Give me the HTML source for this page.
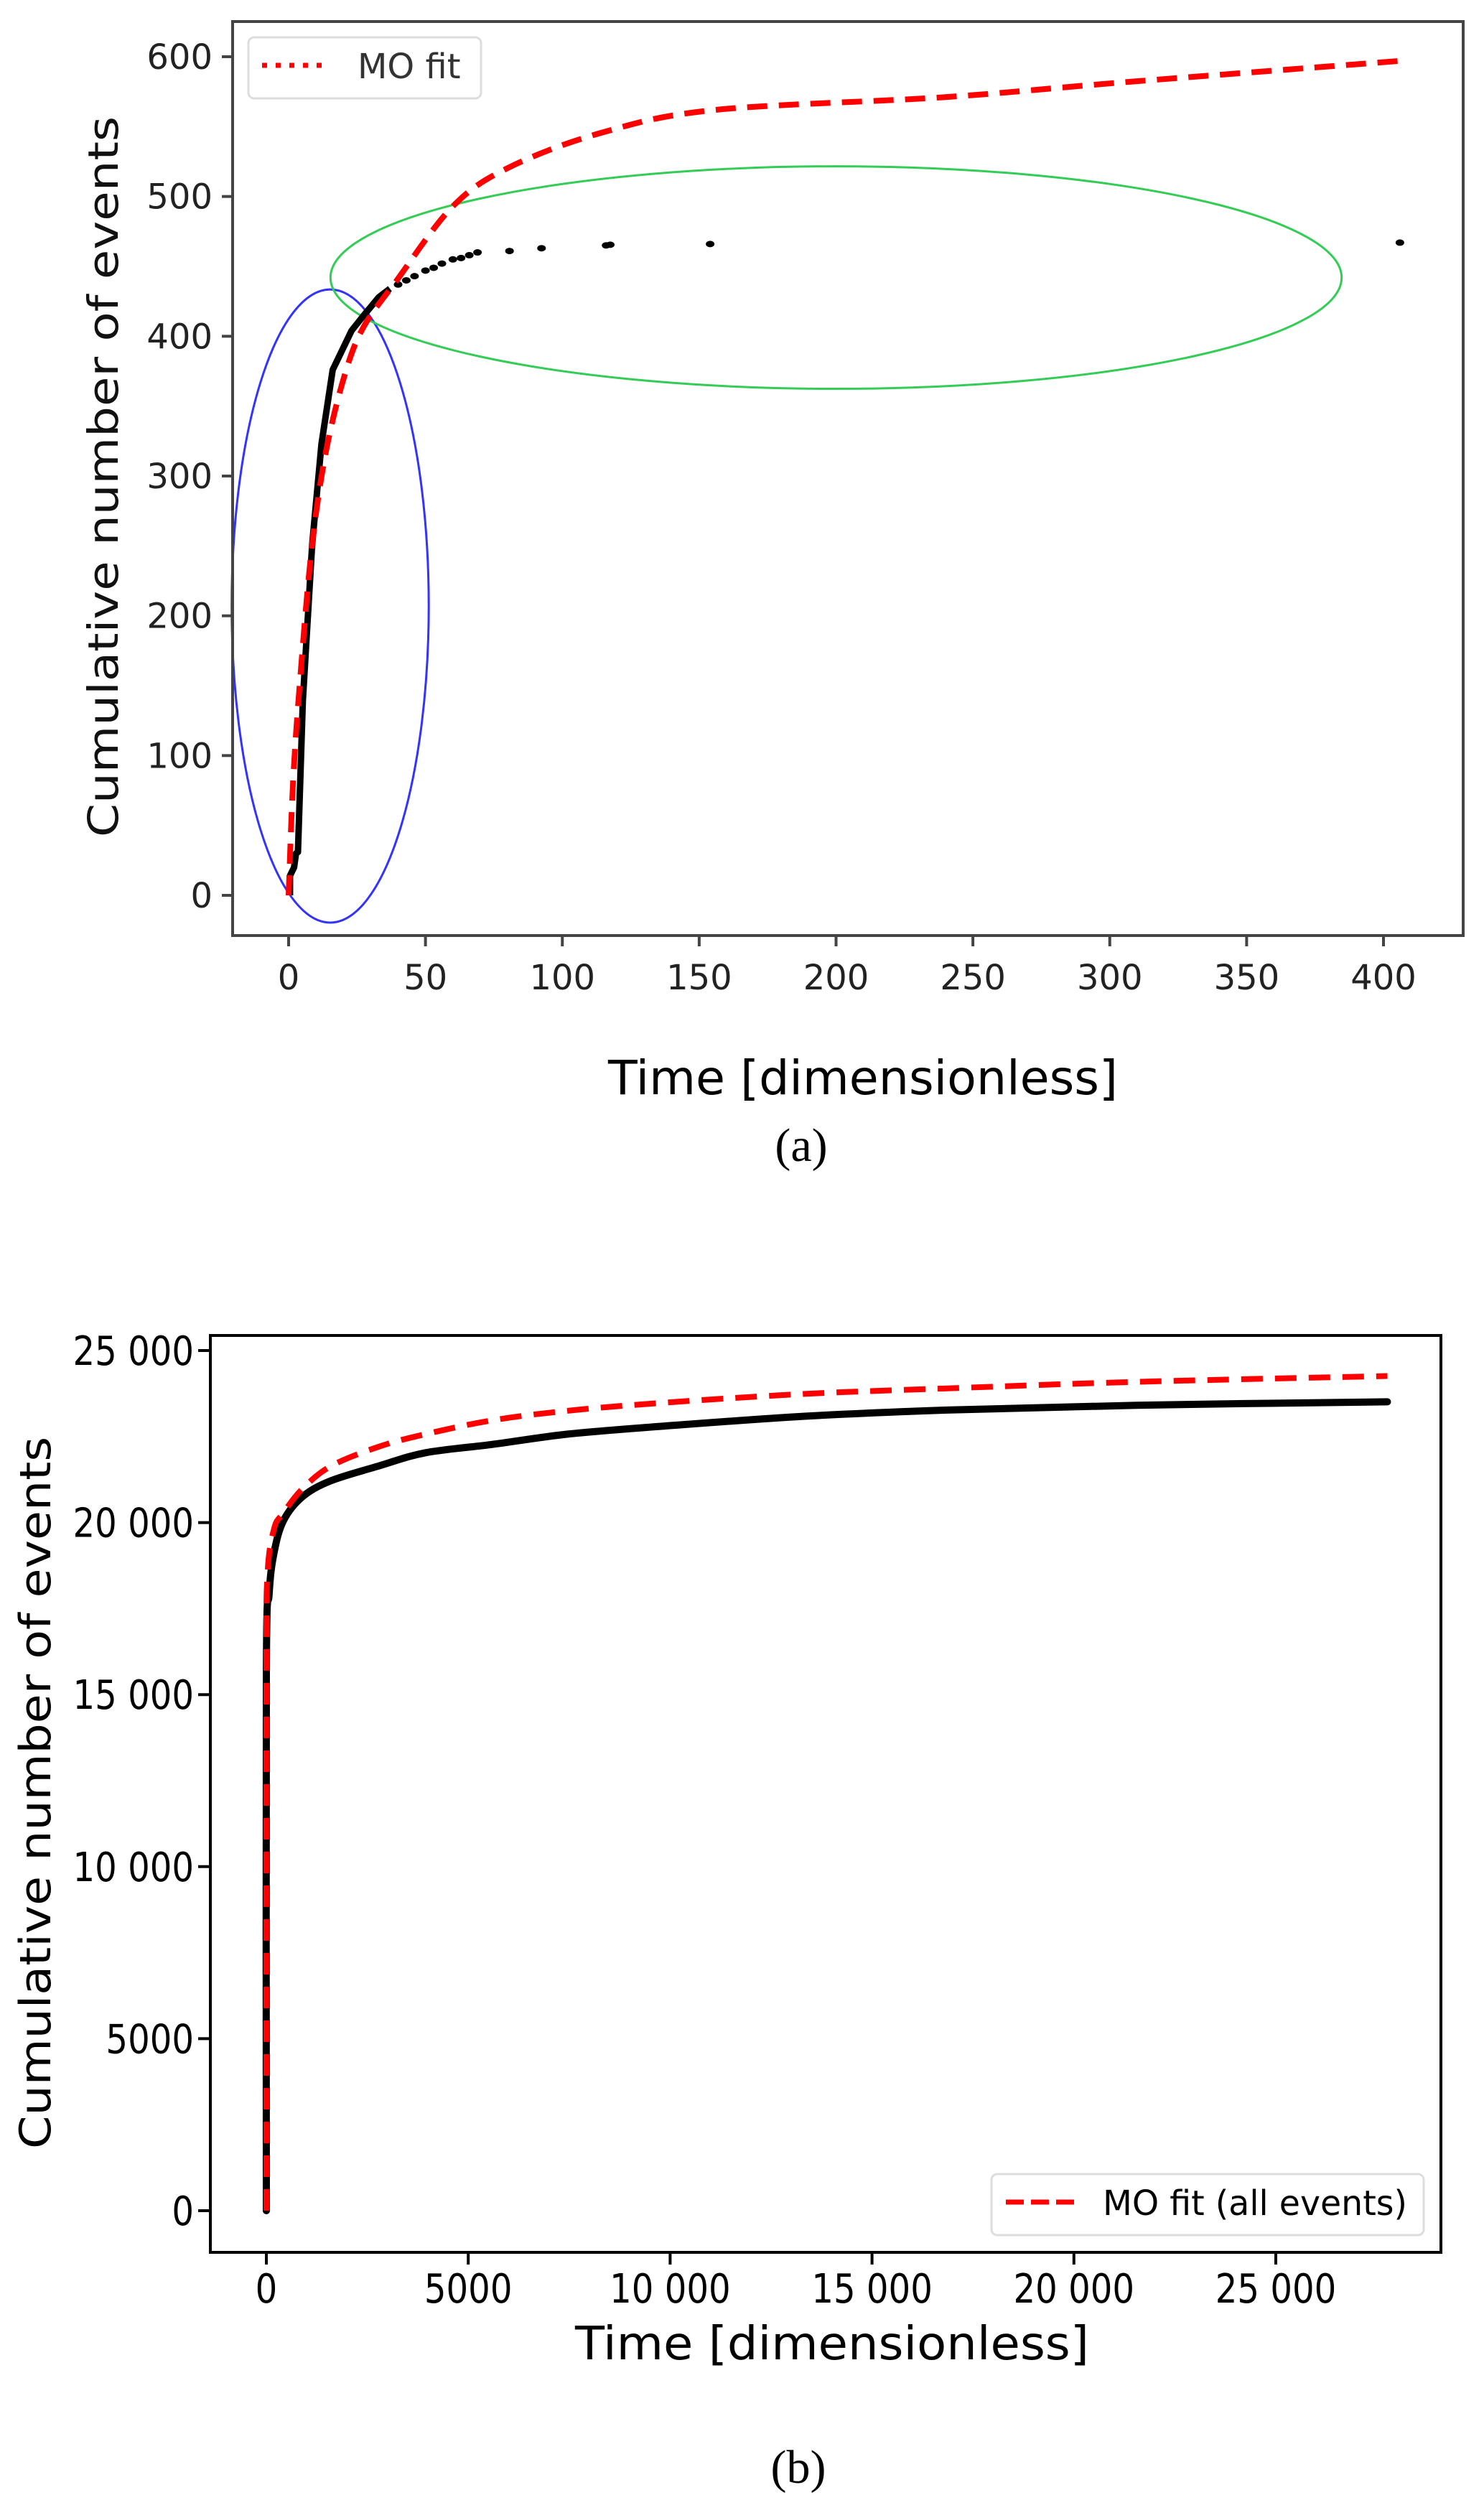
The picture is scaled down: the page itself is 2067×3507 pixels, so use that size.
<!DOCTYPE html>
<html><head><meta charset="utf-8">
<style>
html,body{margin:0;padding:0;background:#fff;}
svg{display:block;}
text{font-family:"DejaVu Sans","Liberation Sans",sans-serif;}
</style></head>
<body>
<svg id="fig" width="2067" height="3507" viewBox="0 0 2067 3507" xmlns="http://www.w3.org/2000/svg">
  <rect x="0" y="0" width="2067" height="3507" fill="#fff"/>
  <g id="pa"></g>
  <g id="pb"></g>
</svg>
<script>
// ---------- Panel (a) data ----------
const aXTicks = [0, 50, 100, 150, 200, 250, 300, 350, 400];
const aYTicks = [0, 100, 200, 300, 400, 500, 600];
const aBlackX = [0.5, 0.5, 2, 2.7, 3.4, 5.2, 8.6, 12, 16.1, 23, 27.5, 33, 37];
const aBlackY = [0, 14, 20, 30, 31, 139, 251, 323, 376, 404, 415, 428, 434];
const aDotsX = [40, 43, 46, 50, 53, 56, 60, 63, 66, 69, 80.7, 92.4, 116, 117.5, 154, 406];
const aDotsY = [437, 440, 443, 447, 449, 452, 455, 456, 458, 460, 461, 463, 465, 465.5, 466, 467];
const aFitX = [0, 1.7, 4.5, 8.6, 13.7, 20.6, 27.5, 39.5, 60, 80.7, 115, 156, 239, 307, 406];
const aFitY = [0, 84, 162, 251, 318, 373, 407, 440, 493, 521, 546, 562, 571, 582, 597];
const aBlueEllipse = [15.2, 207, 36, 226.5];   // cx, cy, rx, ry (data units)
const aGreenEllipse = [200, 442, 184.7, 79.6];

// ---------- Panel (b) data ----------
const bXTicks = [0, 5000, 10000, 15000, 20000, 25000];
const bXTickLabels = ["0", "5000", "10 000", "15 000", "20 000", "25 000"];
const bYTicks = [0, 5000, 10000, 15000, 20000, 25000];
const bYTickLabels = ["0", "5000", "10 000", "15 000", "20 000", "25 000"];
const bBlackX = [0, 0, 70, 188, 422, 892, 1596, 2770, 3943, 5586, 7463, 9810, 13330, 16850, 21545, 27765];
const bBlackY = [0, 15600, 17940, 19110, 20050, 20750, 21215, 21640, 22030, 22270, 22570, 22800, 23090, 23270, 23410, 23510];
const bFitX = [0, 0, 23, 188, 422, 892, 1596, 2770, 3943, 5586, 7463, 9810, 13330, 16850, 21545, 27765];
const bFitY = [0, 15000, 18410, 19810, 20280, 20980, 21640, 22200, 22570, 22970, 23250, 23480, 23740, 23900, 24090, 24260];

const NS = "http://www.w3.org/2000/svg";
function mk(parent, tag, attrs, txt) {
  const e = document.createElementNS(NS, tag);
  for (const k in attrs) e.setAttribute(k, attrs[k]);
  if (txt !== undefined) e.textContent = txt;
  parent.appendChild(e);
  return e;
}
// smooth path through pixel points (Catmull-Rom -> cubic Bezier)
function smooth(pts) {
  let d = 'M' + pts[0][0].toFixed(1) + ',' + pts[0][1].toFixed(1);
  for (let i = 0; i < pts.length - 1; i++) {
    const p0 = pts[Math.max(i-1,0)], p1 = pts[i], p2 = pts[i+1], p3 = pts[Math.min(i+2,pts.length-1)];
    const c1 = [p1[0] + (p2[0]-p0[0])/6, p1[1] + (p2[1]-p0[1])/6];
    const c2 = [p2[0] - (p3[0]-p1[0])/6, p2[1] - (p3[1]-p1[1])/6];
    d += ' C' + c1[0].toFixed(1)+','+c1[1].toFixed(1)+' '+c2[0].toFixed(1)+','+c2[1].toFixed(1)+' '+p2[0].toFixed(1)+','+p2[1].toFixed(1);
  }
  return d;
}

// ===== Panel a =====
(function(){
  const g = document.getElementById('pa');
  const X = v => 402 + v * (1927 - 402) / 400;
  const Y = v => 1247 - v * (1247 - 79) / 600;
  const ax = '#444';
  const be = mk(g, 'ellipse', {cx: X(aBlueEllipse[0]), cy: Y(aBlueEllipse[1]), rx: aBlueEllipse[2]*(1525/400), ry: aBlueEllipse[3]*(1168/600), fill:'none', stroke:'#3333ff', 'stroke-width':3});
  
  
  const ge = mk(g, 'ellipse', {cx: X(aGreenEllipse[0]), cy: Y(aGreenEllipse[1]), rx: aGreenEllipse[2]*(1525/400), ry: aGreenEllipse[3]*(1168/600), fill:'none', stroke:'#33cc55', 'stroke-width':3});
  
  
  let d = aBlackX.map((x,i)=>(i?'L':'M')+X(x).toFixed(1)+','+Y(aBlackY[i]).toFixed(1)).join(' ');
  const bl = mk(g, 'path', {d, fill:'none', stroke:'#000', 'stroke-width':9, 'stroke-linejoin':'round'});
  
  
  aDotsX.forEach((x,i)=>{
    const c = mk(g, 'ellipse', {cx: X(x), cy: Y(aDotsY[i]), rx: 6, ry: 4.5, fill:'#000'});
    
    
  });
  const fpts = aFitX.map((x,i)=>[X(x), Y(aFitY[i])]);
  const rf = mk(g, 'path', {d: smooth(fpts), fill:'none', stroke:'#ff0000', 'stroke-width':8, 'stroke-dasharray':'28 16'});
  
  
  const fr = mk(g, 'rect', {x:324, y:30, width:2038-324, height:1303-30, fill:'none', stroke:ax, 'stroke-width':4});
  
  
  aXTicks.forEach(v=>{
    mk(g, 'line', {x1:X(v), x2:X(v), y1:1303, y2:1318, stroke:ax, 'stroke-width':4});
    const t = mk(g, 'text', {x:X(v), y:1378, 'font-size':48, 'text-anchor':'middle', fill:'#222'}, String(v));
    
    
  });
  aYTicks.forEach(v=>{
    mk(g, 'line', {x1:309, x2:324, y1:Y(v), y2:Y(v), stroke:ax, 'stroke-width':4});
    const t = mk(g, 'text', {x:296, y:Y(v)+17, 'font-size':48, 'text-anchor':'end', fill:'#222'}, String(v));
    
    
  });
})();
</script>
<script>
// ===== Panel b =====
(function(){
  const g = document.getElementById('pb');
  const X = v => 371 + v * (1777 - 371) / 25000;
  const Y = v => 3079 - v * (3079 - 1881) / 25000;
  const bpts = bBlackX.map((x,i)=>[X(x), Y(bBlackY[i])]);
  const bl = mk(g, 'path', {d: smooth(bpts), fill:'none', stroke:'#000', 'stroke-width':10, 'stroke-linejoin':'round', 'stroke-linecap':'round'});
  
  
  const rpts = bFitX.map((x,i)=>[X(x), Y(bFitY[i])]);
  const rf = mk(g, 'path', {d: smooth(rpts), fill:'none', stroke:'#ff0000', 'stroke-width':8, 'stroke-dasharray':'30 17'});
  
  
  const fr = mk(g, 'rect', {x:293, y:1860, width:2007-293, height:3137-1860, fill:'none', stroke:'#000', 'stroke-width':4});
  
  
  bXTicks.forEach((v,i)=>{
    mk(g, 'line', {x1:X(v), x2:X(v), y1:3137, y2:3154, stroke:'#000', 'stroke-width':4});
    const t = mk(g, 'text', {x:X(v), y:3207, 'font-size':56, 'text-anchor':'middle', fill:'#000', transform:'translate('+X(v)+',0) scale(0.86,1) translate('+(-X(v))+',0)'}, bXTickLabels[i]);
    
    
  });
  bYTicks.forEach((v,i)=>{
    mk(g, 'line', {x1:276, x2:293, y1:Y(v), y2:Y(v), stroke:'#000', 'stroke-width':4});
    const t = mk(g, 'text', {x:270, y:Y(v)+20, 'font-size':56, 'text-anchor':'end', fill:'#000', transform:'translate(270,0) scale(0.86,1) translate(-270,0)'}, bYTickLabels[i]);
    
    
  });
})();
</script>
<script>
(function(){
  const svg = document.getElementById('fig');
  const la = mk(svg, 'g', {});
  
  
  mk(la, 'rect', {x:346, y:52, width:324, height:85, rx:8, fill:'#fff', stroke:'#ddd', 'stroke-width':3});
  mk(la, 'line', {x1:365, x2:460, y1:91, y2:91, stroke:'#ff0000', 'stroke-width':7, 'stroke-dasharray':'7 12'});
  const lat = mk(la, 'text', {x:498, y:109, 'font-size':48, fill:'#333'}, 'MO fit');
  
  
  const ya = mk(svg, 'text', {x:0, y:0, 'font-size':58, 'text-anchor':'middle', fill:'#111', textLength:1004, lengthAdjust:'spacingAndGlyphs', transform:'translate(164,664) rotate(-90)'}, 'Cumulative number of events');
  
  
  const xa = mk(svg, 'text', {x:1202, y:1524, 'font-size':66, 'text-anchor':'middle', fill:'#000', textLength:710, lengthAdjust:'spacingAndGlyphs'}, 'Time [dimensionless]');
  
  
  const ca = mk(svg, 'text', {x:1116, y:1617, 'font-size':66, 'text-anchor':'middle', fill:'#000', style:'font-family:"Liberation Serif",serif'}, '(a)');
  
  
  const lb = mk(svg, 'g', {});
  
  
  mk(lb, 'rect', {x:1381, y:3028, width:602, height:85, rx:8, fill:'#fff', stroke:'#ddd', 'stroke-width':3});
  mk(lb, 'line', {x1:1401, x2:1497, y1:3067, y2:3067, stroke:'#ff0000', 'stroke-width':7, 'stroke-dasharray':'25 10'});
  const lbt = mk(lb, 'text', {x:1536, y:3085, 'font-size':48, fill:'#000', textLength:424, lengthAdjust:'spacingAndGlyphs'}, 'MO fit (all events)');
  
  
  const yb = mk(svg, 'text', {x:0, y:0, 'font-size':60, 'text-anchor':'middle', fill:'#000', textLength:992, lengthAdjust:'spacingAndGlyphs', transform:'translate(70,2497) rotate(-90)'}, 'Cumulative number of events');
  
  
  const xb = mk(svg, 'text', {x:1159, y:3286, 'font-size':64, 'text-anchor':'middle', fill:'#000', textLength:716, lengthAdjust:'spacingAndGlyphs'}, 'Time [dimensionless]');
  
  
  const cb = mk(svg, 'text', {x:1112, y:3458, 'font-size':66, 'text-anchor':'middle', fill:'#000', style:'font-family:"Liberation Serif",serif'}, '(b)');
  
  
})();
</script>
</body></html>
